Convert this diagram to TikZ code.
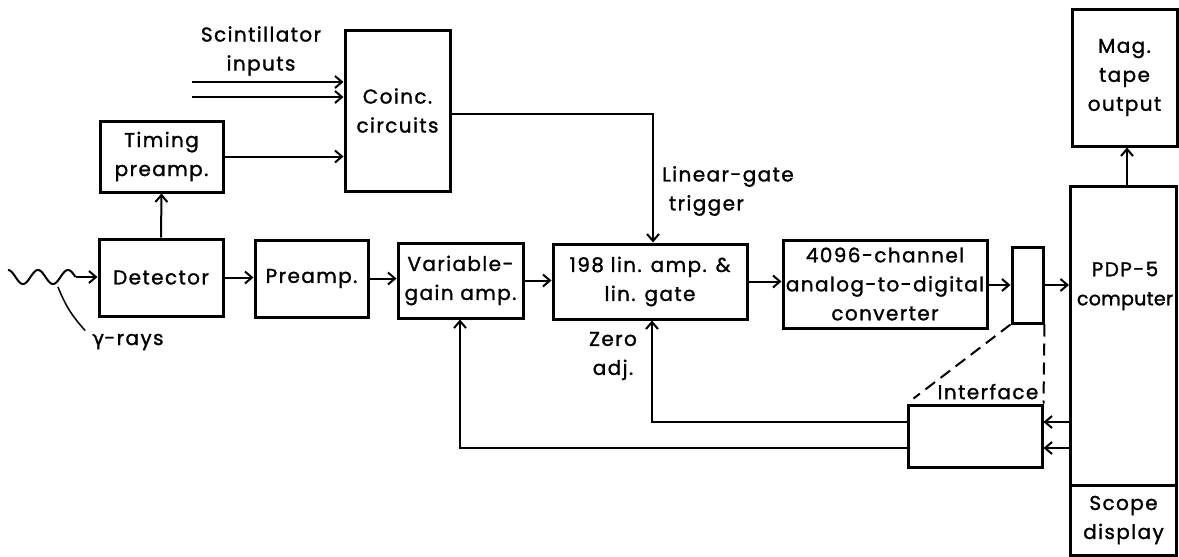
\documentclass[tikz,border=0pt]{standalone}
\usepackage{fontspec}
\setmainfont{Poppins}[LetterSpace=7, FakeBold=1.3]
\newfontfamily\tightfont{Poppins}[LetterSpace=1.5, FakeBold=1.5]
\newfontfamily\gfont{DejaVu Sans}[FakeBold=1.2]
\usetikzlibrary{arrows.meta,calc}
\newcommand\dtxt{\fontsize{20}{29}\selectfont}
\newcommand\ptxt{\fontsize{19}{28}\selectfont}
\begin{document}
\begin{tikzpicture}[x=1pt,y=-1pt,
  box/.style={draw, line width=3pt, inner sep=0pt, align=center, font=\dtxt},
  lbl/.style={inner sep=0pt, align=center, font=\dtxt},
  conn/.style={line width=2pt},
  arr/.style={conn, -{Straight Barb[length=7pt,width=12pt]}},
  dsh/.style={line width=2pt, dash pattern=on 12pt off 7pt}
]
\useasboundingbox (0,0) rectangle (1179,557);

% boxes
\node[box, minimum width=123pt, minimum height=71pt] (timing) at (161.5,156.5) {Timing\\preamp.};
\node[box, minimum width=105pt, minimum height=161pt] (coinc) at (397.5,110.5) {Coinc.\\circuits};
\node[box, minimum width=124pt, minimum height=77pt] (det) at (161,277.5) {Detector};
\node[box, minimum width=113pt, minimum height=77pt] (pre) at (311.5,278.5) {Preamp.};
\node[box, minimum width=125pt, minimum height=75pt] (var) at (460.5,280.5) {Variable-\\gain amp.};
\node[box, minimum width=194pt, minimum height=75pt] (lin) at (650,281.5) {198 lin. amp. \&\\lin. gate};
\node[box, minimum width=204pt, minimum height=88pt] (adc) at (885,284) {4096-channel\\analog-to-digital\\converter};
\node[box, minimum width=31pt, minimum height=76pt] (small) at (1027.5,285) {};
\node[box, minimum width=106pt, minimum height=299pt] (pdp) at (1123.5,335.5) {};
\node[lbl] (pdptxt) at (1125,286) {PDP-5\\{\ptxt\tightfont computer}};
\node[box, minimum width=106pt, minimum height=70pt] (scope) at (1123.5,520) {Scope\\display};
\node[box, minimum width=105pt, minimum height=137pt] (mag) at (1124.5,77.5) {Mag.\\tape\\output};
\node[box, minimum width=134pt, minimum height=62pt] (intf) at (975,436) {};
\node[lbl, anchor=south east] (intftxt) at ($(intf.north east)+(-5,-4)$) {Interface};

% labels
\node[lbl] (scin) at (261,51) {Scintillator\\inputs};
\node[lbl, align=left, anchor=west] (trig) at (662,191) {Linear-gate\\\ trigger};
\node[lbl] (zero) at (613,356) {Zero\\adj.};
\node[lbl] (gamma) at (128,342) {{\gfont γ}-rays};

% coordinates
\coordinate (s1) at (192,82);
\coordinate (s2) at (192,97);
\coordinate (tr) at (653,114);
\coordinate (za) at (652,422);
\coordinate (vg) at (460,448);
\coordinate (w1) at (75.5,277);

% gamma wave
\draw[conn] plot[domain=8:75.5, samples=80, smooth] (\x, {277 - 7*cos((\x-8)*12)});
\draw[arr] (w1) -- (w1 -| det.west);
\draw[line width=1.5pt] (58,287) to[bend right=10] ($(gamma.north west)+(-7,-3)$);

% connectors
\draw[arr] (det.north) -- (timing.south);
\draw[arr] (timing.east) -- (timing.east -| coinc.west);
\draw[arr] (s1) -- (s1 -| coinc.west);
\draw[arr] (s2) -- (s2 -| coinc.west);
\draw[arr] (tr -| coinc.east) -- (tr) -- (tr |- lin.north);
\draw[arr] (det.east) -- (det.east -| pre.west);
\draw[arr] (pre.east) -- (pre.east -| var.west);
\draw[arr] (var.east) -- (var.east -| lin.west);
\draw[arr] (lin.east) -- (lin.east -| adc.west);
\draw[arr] (adc.east |- small.west) -- (small.west);
\draw[arr] (small.east) -- (small.east -| pdp.west);
\draw[arr] (pdp.north -| 1127,0) -- (mag.south -| 1127,0);
\draw[arr] (za -| pdp.west) -- (za -| intf.east);
\draw[arr] (vg -| pdp.west) -- (vg -| intf.east);
\draw[arr] (za -| intf.west) -- (za) -- (za |- lin.south);
\draw[arr] (vg -| intf.west) -- (vg) -- (vg |- var.south);
\draw[dsh] (small.south west) -- ($(intf.north west)+(7,-5)$);
\draw[dsh] (small.south east) -- (intf.north east);
\end{tikzpicture}
\end{document}
